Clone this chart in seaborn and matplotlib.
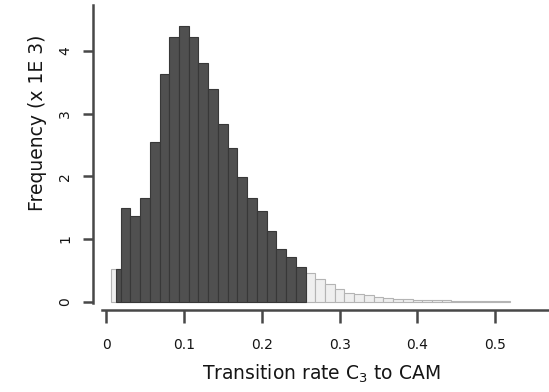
import numpy as np
import pandas as pd
import matplotlib
matplotlib.use('Agg')
import matplotlib.pyplot as plt
import seaborn as sns

# frequencies (x 1E3), bins of width 0.0125 centred on multiples of 0.0125
bin_width = 0.0125
hpd_freq = [0.52, 1.49, 1.36, 1.65, 2.54, 3.63, 4.22, 4.40, 4.22, 3.81,
            3.39, 2.83, 2.45, 1.99, 1.65, 1.44, 1.12, 0.84, 0.72, 0.56]
tail_freq = [0.46, 0.36, 0.29, 0.21, 0.14, 0.12, 0.10, 0.07, 0.06, 0.05,
             0.04, 0.03, 0.02, 0.02, 0.02, 0.015, 0.015, 0.01, 0.01, 0.01, 0.01]
hpd_low = 0.0128   # lower bound of shaded interval, falls inside first bin
x_ticks = [0, 0.1, 0.2, 0.3, 0.4, 0.5]
x_ticklabels = ['0', '0.1', '0.2', '0.3', '0.4', '0.5']
y_ticks = [0, 1, 2, 3, 4]

n_all = len(hpd_freq) + len(tail_freq)
centers = bin_width * np.arange(1, n_all + 1)
edges = np.concatenate([centers - bin_width / 2, [centers[-1] + bin_width / 2]])

# light histogram: first bin + tail
light = pd.DataFrame({'x': np.concatenate([centers[:1], centers[len(hpd_freq):]]),
                      'w': [hpd_freq[0]] + tail_freq})
# dark histogram: inside the interval
dark_edges = np.concatenate([[hpd_low], edges[1:len(hpd_freq) + 1]])
dark = pd.DataFrame({'x': (dark_edges[:-1] + dark_edges[1:]) / 2, 'w': hpd_freq})

sns.set_style('ticks')
plt.rcParams['font.family'] = ['DejaVu Sans']
txt = '#151515'

fig = plt.figure(figsize=(5.49, 3.92), dpi=100)
ax = fig.add_axes([93 / 549, (392 - 310) / 392, (549 - 93) / 549, (310 - 5) / 392])

sns.histplot(data=light, x='x', weights='w', bins=list(edges),
             color='#efefef', edgecolor='#b4b4b4', linewidth=0.8, alpha=1, ax=ax)
sns.histplot(data=dark, x='x', weights='w', bins=list(dark_edges),
             color='#505050', edgecolor='#383838', linewidth=0.8, alpha=1, ax=ax)

ax.set_xlim(-0.0167, 0.569)
ax.set_ylim(-0.132, 4.73)
sns.despine(ax=ax)
ax.spines['left'].set_bounds(-0.02, 4.73)
ax.spines['bottom'].set_bounds(-0.0055, 0.569)
for s in ['left', 'bottom']:
    ax.spines[s].set_linewidth(1.8)
    ax.spines[s].set_color('#484848')

ax.set_xticks(x_ticks)
ax.set_xticklabels(x_ticklabels)
ax.set_yticks(y_ticks)
ax.set_yticklabels([str(v) for v in y_ticks], rotation=90, va='center')
ax.tick_params(axis='x', length=9, width=1.8, color='#484848', labelsize=10,
               labelcolor=txt, pad=11)
ax.tick_params(axis='y', length=7, width=1.8, color='#484848', labelsize=10,
               labelcolor=txt, pad=8)

ax.set_xlabel('Transition rate C$_3$ to CAM', fontsize=13.5, color=txt, labelpad=8)
ax.set_ylabel('Frequency (x 1E 3)', fontsize=13.5, color=txt)
ax.yaxis.set_label_coords(-0.101, 0.613)

fig.savefig('out.png', dpi=100)
